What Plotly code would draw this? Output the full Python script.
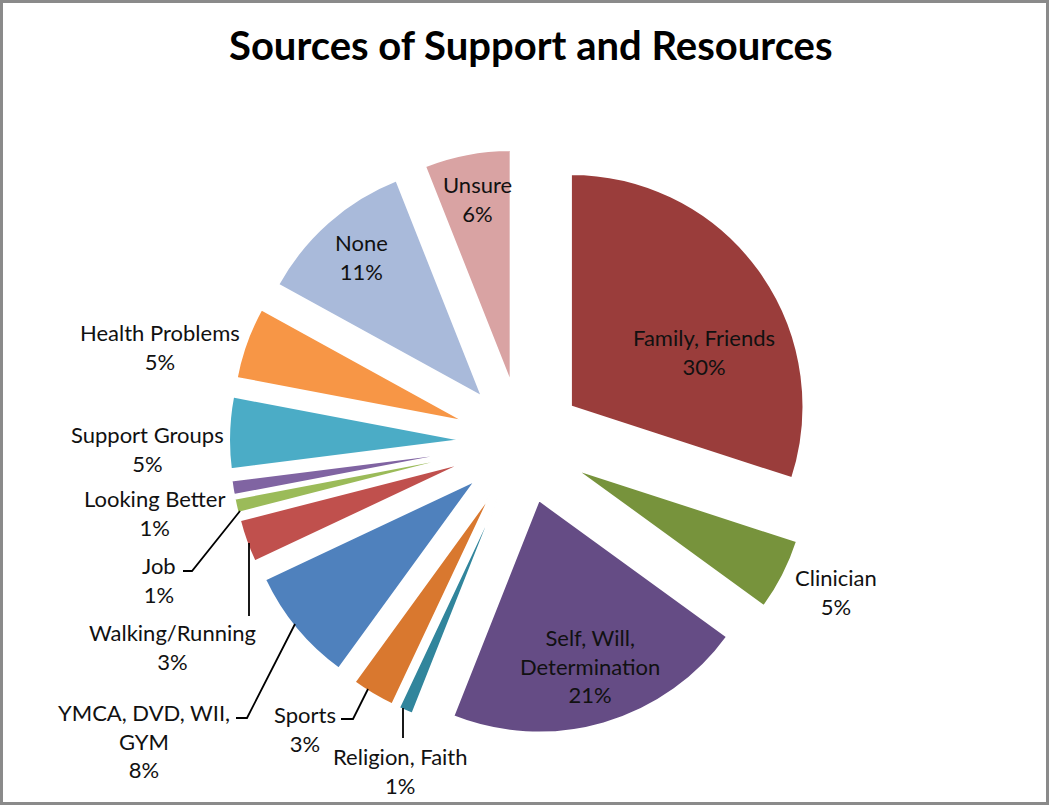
import plotly.graph_objects as go

# ---------------- data ----------------
labels = [
    "Family, Friends", "Clinician", "Self, Will, Determination", "Religion, Faith",
    "Sports", "YMCA, DVD, WII, GYM", "Walking/Running", "Job", "Looking Better",
    "Support Groups", "Health Problems", "None", "Unsure",
]
values = [30, 5, 21, 1, 3, 8, 3, 1, 1, 5, 5, 11, 6]
title_text = "Sources of Support and Resources"

# ---------------- styling ----------------
colors = [
    "#9A3D3B", "#77933C", "#654C85", "#31859C", "#D9782F", "#4F81BD", "#C0504D",
    "#9BBB59", "#8064A2", "#4BACC6", "#F79646", "#A9BADA", "#D9A3A3",
]
W, H = 1050, 806
FONT = "Lato"

def px(x):
    return x / W

def py(y):
    return 1 - y / H

# pie geometry (pixels)
cx, cy, half = 522, 442, 293
pull = 0.26

# label display: line breaks and block centres (pixels)
wrap = {
    "Self, Will, Determination": "Self, Will,<br>Determination",
    "YMCA, DVD, WII, GYM": "YMCA, DVD, WII,<br>GYM",
}
label_pos = {
    "Family, Friends": (704, 352),
    "Clinician": (836, 592),
    "Self, Will, Determination": (590, 666),
    "Religion, Faith": (400, 771),
    "Sports": (305, 729),
    "YMCA, DVD, WII, GYM": (144, 741),
    "Walking/Running": (172, 647),
    "Job": (159, 580),
    "Looking Better": (154, 513),
    "Support Groups": (147, 449),
    "Health Problems": (160, 347),
    "None": (361, 257),
    "Unsure": (477, 199),
}
leaders = [
    [(403, 708), (403, 738)],
    [(341, 719), (353, 719), (368, 689)],
    [(236, 718), (247, 718), (295, 624)],
    [(249, 543), (249, 616)],
    [(183, 571), (192, 571), (240, 511)],
]

total = sum(values)
fig = go.Figure(
    go.Pie(
        labels=labels,
        values=values,
        sort=False,
        direction="clockwise",
        rotation=0,
        pull=[pull] * len(values),
        marker=dict(colors=colors, line=dict(color="white", width=2)),
        textinfo="none",
        hoverinfo="label+percent",
        showlegend=False,
        domain=dict(
            x=[px(cx - half), px(cx + half)],
            y=[py(cy + half), py(cy - half)],
        ),
    )
)

annotations = []
for lab, v in zip(labels, values):
    x, y = label_pos[lab]
    txt = wrap.get(lab, lab) + "<br>" + f"{v / total * 100:.0f}%"
    annotations.append(
        dict(
            x=px(x), y=py(y), xref="paper", yref="paper", text=txt,
            showarrow=False, xanchor="center", yanchor="middle",
            font=dict(family=FONT, size=22, color="#111111"), align="center",
        )
    )
annotations.append(
    dict(
        x=px(531), y=py(45), xref="paper", yref="paper", text=f"<b>{title_text}</b>",
        showarrow=False, xanchor="center", yanchor="middle",
        font=dict(family=FONT, size=40, color="black"),
    )
)

shapes = []
for pts in leaders:
    path = "M " + " L ".join(f"{px(x)},{py(y)}" for x, y in pts)
    shapes.append(dict(type="path", path=path, xref="paper", yref="paper",
                       line=dict(color="black", width=1.8)))
shapes.append(dict(type="rect", xref="paper", yref="paper",
                   x0=px(1.5), x1=px(W - 2.5), y0=py(H - 2.5), y1=py(1.5),
                   line=dict(color="#8a8a8a", width=3)))

fig.update_layout(
    width=W, height=H,
    margin=dict(l=0, r=0, t=0, b=0),
    paper_bgcolor="white", plot_bgcolor="white",
    annotations=annotations, shapes=shapes,
)

fig.write_html(
    "out.html",
    config={"displayModeBar": False},
    post_script="document.body.style.margin='0';document.body.style.overflow='hidden';",
)
